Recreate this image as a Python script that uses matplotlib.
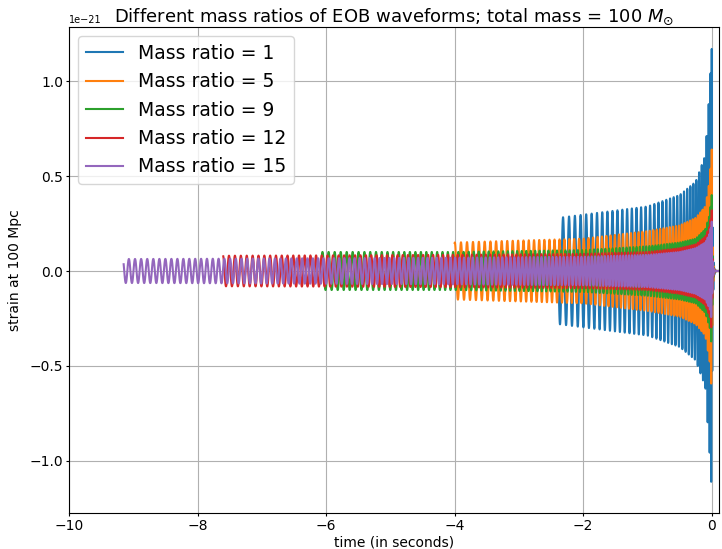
import numpy as np
import matplotlib
matplotlib.use("Agg")
import matplotlib.pyplot as plt

plt.rcParams["path.simplify"] = False

# mass ratios plotted (total mass 100 Msun)
mass_ratios = [1, 5, 9, 12, 15]

tau_knots = np.array([9.15, 8.0, 6.0, 4.0, 2.0, 1.0, 0.5, 0.25, 0.1, 0.03, 0.0])

# start time of each waveform (s, merger at 0)
start_times = [-2.38, -4.0, -6.07, -7.6, -9.15]

# upper envelope of strain (units of 1e-21) at tau_knots, nan = before start
amp_q1 = [np.nan, np.nan, np.nan, np.nan, np.nan, 0.34, 0.40, 0.47, 0.61, 0.97, 1.17]
amp_q5 = [np.nan, np.nan, np.nan, 0.15, 0.17, 0.21, 0.24, 0.28, 0.34, 0.48, 0.64]
amp_q9 = [np.nan, np.nan, 0.10, 0.10, 0.11, 0.13, 0.15, 0.17, 0.22, 0.30, 0.40]
amp_q12 = [np.nan, 0.08, 0.082, 0.085, 0.09, 0.10, 0.12, 0.14, 0.18, 0.24, 0.32]
amp_q15 = [0.063, 0.064, 0.067, 0.07, 0.075, 0.085, 0.10, 0.12, 0.15, 0.20, 0.26]
start_amps = [0.28, 0.15, 0.10, 0.08, 0.063]

# apparent oscillation frequency (Hz) at tau_knots
freq_q1 = [np.nan, np.nan, np.nan, np.nan, np.nan, 14.4, 18.7, 22.0, 27.0, 34.0, 60.0]
freq_q5 = [np.nan, np.nan, np.nan, 10.4, 13.5, 17.5, 22.0, 25.0, 30.0, 36.0, 60.0]
freq_q9 = [np.nan, np.nan, 10.5, 12.2, 15.8, 20.4, 25.0, 28.0, 33.0, 40.0, 60.0]
freq_q12 = [np.nan, 10.6, 11.4, 13.2, 17.2, 22.2, 27.0, 30.0, 35.0, 42.0, 60.0]
freq_q15 = [10.4, 10.9, 12.2, 14.2, 18.4, 23.8, 29.0, 32.0, 37.0, 44.0, 60.0]
start_freq = 10.4

ringdown_time = 0.01
t_end = 0.12
sample_rate = 8192.0

amps = [amp_q1, amp_q5, amp_q9, amp_q12, amp_q15]
freqs = [freq_q1, freq_q5, freq_q9, freq_q12, freq_q15]


def build_waveform(t0, a0, amp, freq):
    amp = np.array(amp, dtype=float)
    freq = np.array(freq, dtype=float)
    ok = ~np.isnan(amp)
    tk = np.concatenate([[t0], -tau_knots[ok]])
    ak = np.concatenate([[a0], amp[ok]])
    fk = np.concatenate([[start_freq], freq[ok]])
    n0 = int(round(t0 * sample_rate))
    t = np.arange(n0, int(t_end * sample_rate)) / sample_rate
    env = np.interp(t, tk, ak)
    f = np.interp(t, tk, fk)
    post = t > 0
    env[post] = ak[-1] * np.exp(-t[post] / ringdown_time)
    phase = 2 * np.pi * np.cumsum(f) / sample_rate
    # line the phase up so the peak falls at the merger
    phase -= phase[np.argmin(np.abs(t))]
    return t, env * np.cos(phase) * 1e-21


fig = plt.figure(figsize=(7.22, 5.49), dpi=100)
ax = fig.add_axes([0.0956, 0.0656, 0.9, 0.885])

for q, t0, a0, amp, freq in zip(mass_ratios, start_times, start_amps, amps, freqs):
    t, h = build_waveform(t0, a0, amp, freq)
    ax.plot(t, h, label="Mass ratio = %d" % q)

ax.set_xlim(-10, 0.11)
ax.set_ylim(-1.275e-21, 1.285e-21)
ax.set_xlabel("time (in seconds)", fontsize=10, labelpad=2)
ax.set_ylabel("strain at 100 Mpc", fontsize=10, labelpad=6)
ax.set_title(r"Different mass ratios of EOB waveforms; total mass = 100 $M_{\odot}$",
             fontsize=13, pad=2)
ax.tick_params(labelsize=10, length=2, pad=2)
ax.yaxis.get_offset_text().set_fontsize(7)
ax.grid(True)
ax.legend(loc="upper left", fontsize=13.5)

fig.savefig("out.png", dpi=100)
